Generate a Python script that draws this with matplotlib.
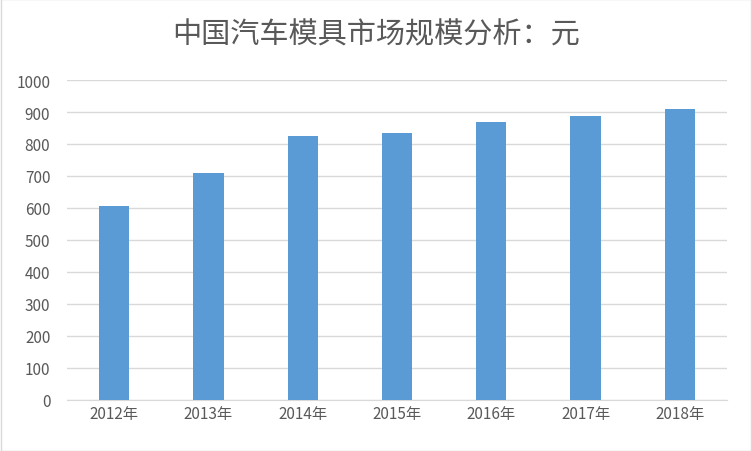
import matplotlib
matplotlib.use('agg')
import matplotlib.pyplot as plt

plt.rcParams['font.family'] = ['Noto Sans CJK SC', 'DejaVu Sans']

years = ['2012年', '2013年', '2014年', '2015年', '2016年', '2017年', '2018年']
values = [606, 709, 825, 835, 868, 887, 909]
yticks = list(range(0, 1001, 100))

fig = plt.figure(figsize=(7.52, 4.52), dpi=100)
ax = fig.add_axes([67 / 752, 1 - 401 / 452, 660 / 752, 320 / 452])
ax.bar(range(len(years)), values, width=0.32, color='#5b9bd5', zorder=3)
ax.set_xlim(-0.5, len(years) - 0.5)
ax.set_ylim(0, 1000)
ax.set_yticks(yticks)
ax.set_xticks(range(len(years)))
ax.set_xticklabels(years)
ax.grid(axis='y', color='#d9d9d9', linewidth=1, zorder=0)
for s in ['top', 'right', 'left']:
    ax.spines[s].set_visible(False)
ax.spines['bottom'].set_color('#d9d9d9')
ax.tick_params(length=0, colors='#595959', labelsize=11)
ax.tick_params(axis='y', pad=12)
fig.text(0.5, 1 - 35 / 452, '中国汽车模具市场规模分析：元', ha='center', va='center',
         fontsize=21, color='#595959')
fig.patches.append(plt.Rectangle((0.001, 0.001), 0.998, 0.998, transform=fig.transFigure,
                                 fill=False, edgecolor='#d9d9d9', linewidth=1))
fig.savefig('out.png')
